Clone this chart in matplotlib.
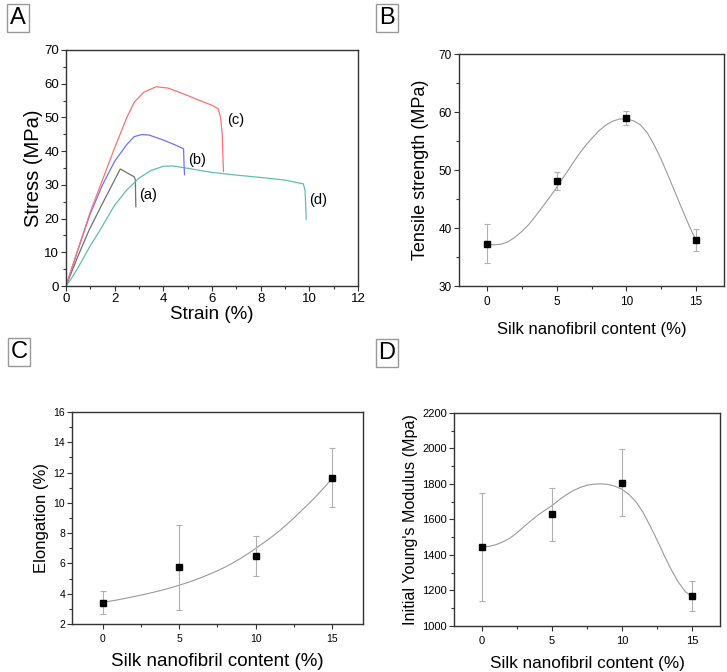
import numpy as np
import matplotlib as mpl
mpl.use('Agg')
import matplotlib.pyplot as plt
from matplotlib.ticker import MultipleLocator

mpl.rcParams.update({
    'font.family': ['Liberation Sans', 'DejaVu Sans'],
    'axes.linewidth': 1.0,
    'axes.edgecolor': '#333333',
})

# A: stress-strain curves
strain_a = [0, 0.5, 0.95, 1.5, 2.0, 2.23, 2.4, 2.8, 2.85, 2.86, 2.87]
stress_a = [0, 9, 16.6, 24.5, 31.5, 34.7, 34.0, 32.4, 31.5, 27, 23.5]

strain_b = [0, 0.5, 1.0, 1.5, 2.0, 2.5, 2.8, 3.1, 3.4, 4.0, 4.5, 4.83, 4.85, 4.87]
stress_b = [0, 11, 21.5, 30, 37, 42, 44.3, 44.9, 44.8, 43.3, 41.8, 40.7, 36, 33]

strain_c = [0, 0.5, 1.0, 1.5, 2.0, 2.5, 2.8, 3.2, 3.7, 4.2, 5.0, 5.5, 6.0, 6.25,
            6.35, 6.42, 6.45, 6.47]
stress_c = [0, 11, 22, 31.5, 41, 50, 54.5, 57.5, 59.1, 58.7, 56.5, 55, 53.6, 52.6,
            50, 45, 38, 34]

strain_d = [0, 0.2, 0.5, 1.0, 1.4, 2.0, 2.5, 3.0, 3.5, 4.0, 4.4, 5.0, 6.0, 7.0,
            8.0, 9.0, 9.75, 9.82, 9.85, 9.87]
stress_d = [0, 2, 5.5, 12, 16.6, 24, 28.5, 32, 34.3, 35.5, 35.6, 34.9, 33.7, 32.9,
            32.2, 31.4, 30.3, 28.5, 24, 19.8]

# B, C, D: property vs silk content
content = [0, 5, 10, 15]
tensile = [37.3, 48.1, 59.0, 38.0]
tensile_err = [3.4, 1.6, 1.2, 1.9]
elong = [3.4, 5.75, 6.5, 11.65]
elong_err = [0.75, 2.8, 1.3, 1.95]
modulus = [1446, 1628, 1807, 1170]
modulus_err = [305, 150, 190, 85]

# fitted guide lines, every 0.5 %
fit_x = np.arange(0, 15.5, 0.5)
fit_tensile = [37.2, 37.1, 37.2, 37.6, 38.4, 39.4, 40.6, 42.1, 43.7, 45.3, 47.0,
               48.8, 50.6, 52.4, 54.0, 55.4, 56.7, 57.7, 58.4, 58.8, 58.8, 58.5,
               57.8, 56.4, 54.3, 51.8, 49.0, 46.1, 43.2, 40.4, 37.8]
fit_elong = [3.43, 3.51, 3.6, 3.7, 3.8, 3.91, 4.02, 4.14, 4.27, 4.41, 4.56, 4.72,
             4.9, 5.09, 5.3, 5.52, 5.76, 6.03, 6.33, 6.65, 7.0, 7.35, 7.72, 8.12,
             8.55, 9.01, 9.5, 9.99, 10.5, 11.05, 11.63]
fit_modulus = [1446, 1448, 1458, 1474, 1495, 1525, 1560, 1593, 1625, 1652, 1678,
               1710, 1738, 1762, 1780, 1793, 1799, 1801, 1797, 1787, 1770, 1740,
               1700, 1640, 1565, 1485, 1400, 1320, 1250, 1195, 1165]

fig = plt.figure(figsize=(7.27, 6.72), dpi=100)

axA = fig.add_axes([0.0908, 0.5744, 0.4017, 0.3512])
axB = fig.add_axes([0.6314, 0.5744, 0.3645, 0.3452])
axC = fig.add_axes([0.0990, 0.0714, 0.4003, 0.3155])
axD = fig.add_axes([0.6245, 0.0685, 0.3659, 0.3170])


def style(ax, tsize):
    ax.tick_params(which='major', direction='out', length=3.5, width=0.8,
                   labelsize=tsize, pad=1.5, color='#333333')
    ax.tick_params(which='minor', direction='out', length=2, width=0.8,
                   color='#333333')


# panel A
lw = 0.9
axA.plot(strain_a, stress_a, color='#707070', lw=lw)
axA.plot(strain_d, stress_d, color='#5fbfb0', lw=lw)
axA.plot(strain_b, stress_b, color='#7070ff', lw=lw)
axA.plot(strain_c, stress_c, color='#ff7070', lw=lw)
axA.text(3.0, 27, '(a)', fontsize=10.5, va='center')
axA.text(5.0, 37.4, '(b)', fontsize=10.5, va='center')
axA.text(6.6, 49.3, '(c)', fontsize=10.5, va='center')
axA.text(10.0, 25.5, '(d)', fontsize=10.5, va='center')
axA.set_xlim(0, 12)
axA.set_ylim(0, 70)
axA.xaxis.set_major_locator(MultipleLocator(2))
axA.xaxis.set_minor_locator(MultipleLocator(1))
axA.yaxis.set_major_locator(MultipleLocator(10))
axA.yaxis.set_minor_locator(MultipleLocator(5))
style(axA, 9.5)
axA.set_xlabel('Strain (%)', fontsize=13.5, labelpad=1)
axA.set_ylabel('Stress (MPa)', fontsize=14.5, labelpad=1)


def prop_panel(ax, y, yerr, fy, ylim, ystep, ylabel, xs, ys, ts, xpad, ypad):
    ax.plot(fit_x, fy, color='#9a9a9a', lw=0.8)
    ax.errorbar(content, y, yerr=yerr, fmt='s', color='black', ms=4.5,
                ecolor='#b0b0b0', elinewidth=0.8, capsize=2, capthick=0.8)
    ax.set_xlim(-2, 17)
    ax.set_ylim(*ylim)
    ax.xaxis.set_major_locator(MultipleLocator(5))
    ax.xaxis.set_minor_locator(MultipleLocator(2.5))
    ax.yaxis.set_major_locator(MultipleLocator(ystep))
    ax.yaxis.set_minor_locator(MultipleLocator(ystep / 2))
    style(ax, ts)
    ax.xaxis.set_tick_params(pad=4)
    ax.set_xlabel('Silk nanofibril content (%)', fontsize=xs, labelpad=xpad)
    ax.set_ylabel(ylabel, fontsize=ys, labelpad=ypad)


prop_panel(axB, tensile, tensile_err, fit_tensile, (30, 70), 10,
           'Tensile strength (MPa)', 12, 13, 8.5, 10, 7)
prop_panel(axC, elong, elong_err, fit_elong, (2, 16), 2,
           'Elongation (%)', 13.5, 12, 7.5, 6, 3)
prop_panel(axD, modulus, modulus_err, fit_modulus, (1000, 2200), 200,
           "Initial Young's Modulus (Mpa)", 12.3, 11.6, 8, 7, 3)

# panel letters
for lab, x, y in [('A', 18, 18), ('B', 387, 18), ('C', 19, 352), ('D', 387, 353)]:
    fig.text(x / 727, 1 - y / 672, lab, fontsize=17, ha='center', va='center',
             bbox=dict(boxstyle='square,pad=0.12', fc='white', ec='#999999', lw=1))

plt.savefig('out.png', dpi=100)
